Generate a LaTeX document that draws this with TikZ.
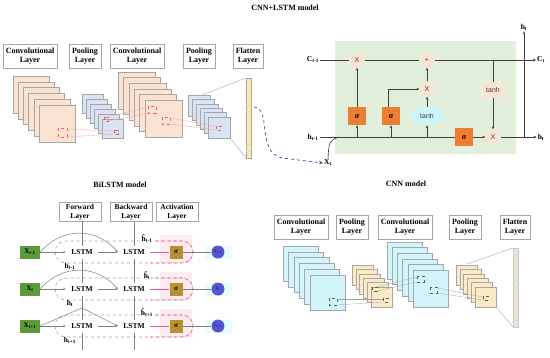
\documentclass[tikz,border=0pt]{standalone}
\usepackage{fontspec}
\setmainfont{Liberation Serif}
\setsansfont{Liberation Sans}
\usetikzlibrary{arrows.meta,shapes.geometric,positioning}

\definecolor{fmorange}{HTML}{FBE3D1}
\definecolor{fmblue}{HTML}{DAE3F3}
\definecolor{fmcyan}{HTML}{D2F5FB}
\definecolor{fmyellow}{HTML}{FCE9C6}
\definecolor{flatyellow}{HTML}{FCE8B2}
\definecolor{flatbeige}{HTML}{EEE5D0}
\definecolor{framegray}{HTML}{A6A6A6}
\definecolor{cellgreen}{HTML}{E2EFDA}
\definecolor{gateorange}{HTML}{ED7D31}
\definecolor{oppink}{HTML}{FBE4D5}
\definecolor{tanhcyan}{HTML}{CCF6FC}
\definecolor{wiregray}{HTML}{404040}
\definecolor{xgreen}{HTML}{5C9B3A}
\definecolor{actgold}{HTML}{B8902E}
\definecolor{yblue}{HTML}{5555D5}
\definecolor{linkpurple}{HTML}{7030A0}
\definecolor{dashtan}{HTML}{C49A7A}
\definecolor{dashred}{HTML}{F0607A}
\definecolor{actpink}{HTML}{FDEBF2}
\definecolor{ycyan}{HTML}{E6FCFD}
\definecolor{markred}{HTML}{F06060}
\definecolor{markgreen}{HTML}{3F6F4F}

\tikzset{
  modeltitle/.style={font=\bfseries\fontsize{8}{9}\selectfont},
  layerbox/.style={draw=framegray, fill=white, align=center, inner xsep=3pt, inner ysep=2pt,
    minimum height=24pt, font=\bfseries\fontsize{8}{9}\selectfont},
  fmap/.style={draw=framegray, line width=0.5pt},
  wire/.style={draw=wiregray, line width=0.6pt},
  flow/.style={wire, -{Stealth[length=3pt,width=2.6pt]}},
  gate/.style={fill=gateorange, minimum size=18pt, inner sep=0pt, font=\bfseries\fontsize{8}{8}\selectfont},
  opnode/.style={circle, fill=oppink, minimum size=15pt, inner sep=0pt, font=\sffamily\fontsize{7}{7}\selectfont, text=black!75},
  statelabel/.style={font=\bfseries\fontsize{7.5}{8}\selectfont, inner sep=1pt},
  bihead/.style={draw=framegray, fill=white, align=center, inner sep=1.5pt, minimum width=42pt,
    minimum height=19pt, font=\bfseries\fontsize{7.5}{8.5}\selectfont},
  inbox/.style={fill=xgreen, minimum width=20pt, minimum height=13pt, inner sep=0pt, font=\bfseries\fontsize{7}{7}\selectfont},
  lstmbox/.style={fill=white, minimum width=32pt, minimum height=13pt, inner sep=1pt, font=\bfseries\fontsize{7.5}{8}\selectfont},
  actbox/.style={fill=actgold, minimum width=13pt, minimum height=13pt, inner sep=0pt, font=\bfseries\fontsize{7}{7}\selectfont},
  outnode/.style={circle, fill=yblue, minimum size=13pt, inner sep=0pt, font=\bfseries\fontsize{5.5}{6}\selectfont, text=black!80},
  biline/.style={draw=gray, line width=0.5pt},
  biflow/.style={biline, -{Stealth[length=2.5pt,width=2pt]}},
}

\begin{document}
\begin{tikzpicture}[x=1pt,y=-1pt]
\useasboundingbox (0,0) rectangle (550,357);

% ---- CNN+LSTM model: CNN part
\node[modeltitle] (ttop) at (285,8) {CNN+LSTM model};
\node[layerbox] (conv1) at (30,56) {Convolutional\\Layer};
\node[layerbox] (pool1) at (85,56) {Pooling\\Layer};
\node[layerbox] (conv2) at (137,56) {Convolutional\\Layer};
\node[layerbox] (pool2) at (199,56) {Pooling\\Layer};
\node[layerbox] (flat1) at (248,56) {Flatten\\Layer};
\foreach \i in {0,...,5} \draw[fmap, fill=fmorange] (13+5.2*\i,76+5.8*\i) rectangle ++(36,37);
\foreach \i in {0,...,5} \draw[fmap, fill=fmblue] (82+4*\i,94+5*\i) rectangle ++(21,19);
\foreach \i in {0,...,5} \draw[fmap, fill=fmorange] (118+5.4*\i,72+5.6*\i) rectangle ++(37,37);
\foreach \i in {0,...,5} \draw[fmap, fill=fmblue] (188+4*\i,95+4.4*\i) rectangle ++(22,21);
\draw[framegray, fill=flatyellow] (246,78) rectangle (251,158);
\foreach \k in {1,...,11} \draw[orange!35, line width=0.3pt] (246,78+6.67*\k) -- ++(5,0);
\draw[framegray, line width=0.4pt] (202,95) -- (246,78);
\draw[framegray, line width=0.4pt] (230,138) -- (246,158);
% red marks
\draw[markred, dashed, line width=0.5pt] (58,128) rectangle ++(9,9);
\draw[markred, dashed, line width=0.5pt] (104,117) rectangle ++(4,4);
\draw[markred, dashed, line width=0.5pt] (114,130) rectangle ++(4,4);
\draw[markred, dashed, line width=0.5pt] (148,106) rectangle ++(8,7);
\draw[markred, dashed, line width=0.5pt] (162,117) rectangle ++(8,7);
\draw[markred, dashed, line width=0.5pt] (216,126) rectangle ++(5,4);
\draw[markred!60, line width=0.3pt] (67,129) -- (114,131);
\draw[markred!60, line width=0.3pt] (67,137) -- (114,134);
\draw[markred!60, line width=0.3pt] (108,117) -- (148,107);
\draw[markred!60, line width=0.3pt] (108,121) -- (148,113);
\draw[markred!60, line width=0.3pt] (170,118) -- (216,126);
\draw[markred!60, line width=0.3pt] (170,124) -- (216,130);

% ---- LSTM cell
\fill[cellgreen] (335,41) rectangle (516,154);
\node[statelabel] (cprev) at (313,60) {C\textsubscript{t-1}};
\node[statelabel] (cnext) at (541,60) {C\textsubscript{t}};
\node[statelabel] (hprev) at (313,137) {h\textsubscript{t-1}};
\node[statelabel] (hnext) at (541,137) {h\textsubscript{t}};
\node[statelabel] (htop) at (524,27) {h\textsubscript{t}};
\node[statelabel] (xt) at (328,163) {X\textsubscript{t}};
\node[opnode] (mulf) at (357,60) {X};
\node[opnode] (addc) at (427,60) {+};
\node[opnode] (muli) at (427,89) {X};
\node[opnode] (mulo) at (493,137) {X};
\node[gate] (sigf) at (357,116) {σ};
\node[gate] (sigi) at (391,116) {σ};
\node[ellipse, fill=tanhcyan, minimum width=34pt, minimum height=18pt, inner sep=0pt,
  font=\sffamily\fontsize{7}{7}\selectfont, text=black!75] (tanhc) at (427,116) {tanh};
\node[gate] (sigo) at (464,137) {σ};
\node[fill=oppink, minimum width=23pt, minimum height=15pt, inner sep=0pt,
  font=\sffamily\fontsize{7}{7}\selectfont, text=black!75] (tanho) at (493,90) {tanh};
\coordinate (bf) at (357,137);
\coordinate (bi) at (391,137);
\coordinate (bc) at (427,137);
\coordinate (ctap) at (493,60);
\coordinate (hup) at (524,137);
\coordinate (hjoin) at (339,137);
\draw[wire] (cprev) -- (mulf);
\draw[wire] (mulf) -- (addc);
\draw[flow] (addc) -- (cnext);
\draw[wire] (hprev) -- (sigo);
\draw[flow] (sigo) -- (mulo);
\draw[flow] (mulo) -- (hnext);
\draw[flow] (hup) -- (htop);
\draw[flow] (bf) -- (sigf);
\draw[flow] (bi) -- (sigi);
\draw[flow] (bc) -- (tanhc);
\draw[flow] (sigf) -- (mulf);
\draw[flow] ([xshift=-3pt]sigi.north) |- (muli);
\draw[flow] (tanhc) -- (muli);
\draw[flow] (muli) -- (addc);
\draw[wire] (ctap) -- (tanho);
\draw[flow] (tanho) -- (mulo);
\draw[wire] (xt.north) .. controls (329,141) .. (hjoin);
% link from flatten to cell input
\coordinate (fout) at (254,107);
\draw[linkpurple, dashed, line width=0.7pt, -{Stealth[length=4pt,width=3.5pt]}]
  (fout) .. controls (272,108) and (256,152) .. (282,158) -- (xt.west);

% ---- BiLSTM model
\node[modeltitle] (tbi) at (120,185) {BiLSTM model};
\foreach \row/\yy in {1/252,2/289,3/326}{
  \fill[actpink] (160,\yy-17) rectangle (192,\yy+11);
  \fill[ycyan] (206,\yy-6) rectangle (232,\yy+7);
  \draw[dashtan, dashed, line width=0.6pt, rounded corners=11pt] (55,\yy-11) rectangle (193,\yy+11);
  \draw[dashred, dashed, line width=0.6pt, rounded corners=11pt] (150,\yy-11) -- (193,\yy-11) -- (193,\yy+11) -- (150,\yy+11);
}
\node[bihead] (fwdh) at (80,212) {Forward\\Layer};
\node[bihead] (bwdh) at (131,212) {Backward\\Layer};
\node[bihead] (acth) at (177,212) {Activation\\Layer};
\coordinate (fbot) at (82,350);
\coordinate (bbot) at (134,350);
\draw[biline] (fwdh.south -| fbot) -- (fbot);
\draw[biline] (bwdh.south -| bbot) -- (bbot);
\foreach \row/\yy/\idx in {1/252/t-1,2/289/t,3/326/t+1}{
  \node[inbox] (x\row) at (30,\yy) {X\textsubscript{\idx}};
  \node[lstmbox] (f\row) at (82,\yy) {LSTM};
  \node[lstmbox] (b\row) at (134,\yy) {LSTM};
  \node[actbox] (s\row) at (176,\yy) {σ};
  \node[outnode] (y\row) at (218,\yy) {y\textsubscript{\idx}};
  \node[statelabel] (hf\row) at (70,\yy+14) {h\textsubscript{\idx}};
  \node[statelabel, fill=white] (hb\row) at (147,\yy-13) {ĥ\textsubscript{\idx}};
  \draw[biflow] (x\row) -- (f\row);
  \draw[biflow] (f\row) -- (b\row);
  \draw[biline, draw=dashred] (b\row) -- (s\row);
  \draw[biline] (s\row) -- (y\row);
}
\draw[biflow] (x1.east) .. controls +(22,-25) and +(-22,-25) .. (b1.west);
\draw[biflow] (x2.east) .. controls +(22,-25) and +(-22,-25) .. (b2.west);
\coordinate (apex3) at (82,308);
\draw[biflow] (x3.east) -- (apex3) -- (b3.west);

% ---- CNN model
\node[modeltitle] (tcnn) at (406,184) {CNN model};
\node[layerbox] (conv3) at (301,227) {Convolutional\\Layer};
\node[layerbox] (pool3) at (352,227) {Pooling\\Layer};
\node[layerbox] (conv4) at (405,227) {Convolutional\\Layer};
\node[layerbox] (pool4) at (465,227) {Pooling\\Layer};
\node[layerbox] (flat2) at (515,227) {Flatten\\Layer};
\foreach \i in {0,...,5} \draw[fmap, fill=fmcyan] (283+5.4*\i,246+5.8*\i) rectangle ++(35,35);
\foreach \i in {0,...,5} \draw[fmap, fill=fmyellow] (352+3.8*\i,265+4.4*\i) rectangle ++(21,20);
\foreach \i in {0,...,5} \draw[fmap, fill=fmcyan] (387+5.2*\i,242+5.6*\i) rectangle ++(35,37);
\foreach \i in {0,...,5} \draw[fmap, fill=fmyellow] (456+3.8*\i,265+4.4*\i) rectangle ++(21,20);
\draw[framegray!60, fill=flatbeige] (513,248) rectangle (518,327);
\foreach \k in {1,...,11} \draw[framegray!40, line width=0.3pt] (513,248+6.6*\k) -- ++(5,0);
\draw[framegray, line width=0.4pt] (467,264) -- (513,248);
\draw[framegray, line width=0.4pt] (496,307) -- (513,327);
% green marks
\draw[markgreen, dashed, line width=0.5pt] (329,298) rectangle ++(8,7);
\draw[markgreen, dashed, line width=0.5pt] (372,287) rectangle ++(5,4);
\draw[markgreen, dashed, line width=0.5pt] (383,298) rectangle ++(5,4);
\draw[markgreen, dashed, line width=0.5pt] (417,276) rectangle ++(7,6);
\draw[markgreen, dashed, line width=0.5pt] (430,287) rectangle ++(7,6);
\draw[markgreen, dashed, line width=0.5pt] (483,296) rectangle ++(5,4);
\draw[gray!70, line width=0.3pt] (337,299) -- (383,299);
\draw[gray!70, line width=0.3pt] (337,305) -- (383,302);
\draw[gray!70, line width=0.3pt] (377,287) -- (417,277);
\draw[gray!70, line width=0.3pt] (377,291) -- (417,282);
\draw[gray!70, line width=0.3pt] (437,288) -- (483,297);
\draw[gray!70, line width=0.3pt] (437,293) -- (483,300);
\end{tikzpicture}
\end{document}
